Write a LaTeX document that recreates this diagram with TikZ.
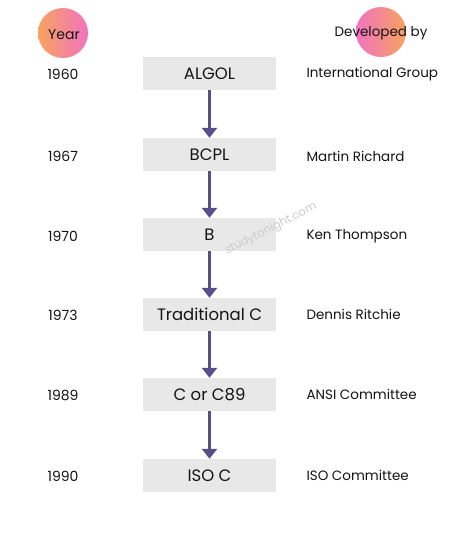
\documentclass[tikz,border=0pt]{standalone}
\usepackage{fontspec}
\setmainfont{Poppins}
\usetikzlibrary{arrows.meta}
\definecolor{boxgray}{HTML}{E8E8E8}
\definecolor{arrowc}{HTML}{5A4E88}
\definecolor{orangec}{HTML}{F7A35F}
\definecolor{pinkc}{HTML}{F173C0}
\definecolor{txt}{HTML}{141414}
\tikzset{
  langbox/.style={fill=boxgray, minimum width=133pt, minimum height=33pt, inner sep=0pt, font=\fontsize{16.5}{19}\selectfont, text=txt},
  yearlbl/.style={font=\fontsize{14}{16}\selectfont, text=txt},
  devlbl/.style={anchor=west, font=\fontsize{13.5}{16}\selectfont, text=txt},
  flow/.style={draw=arrowc, line width=3.5pt, -{Triangle[width=15pt,length=10pt]}, shorten >=0pt},
}
\begin{document}
\begin{tikzpicture}[x=1pt,y=-1pt]
\useasboundingbox (0,0) rectangle (450,550);
\fill[white] (0,0) rectangle (450,550);
% header circles
\shade[left color=orangec, right color=pinkc] (63,33) circle (25);
\shade[left color=pinkc, right color=orangec] (381,32) circle (25);
\node[yearlbl] (hy) at (64,35) {Year};
\node[yearlbl, font=\fontsize{13.5}{16}\selectfont] (hd) at (381,33) {Developed by};
% boxes
\node[langbox] (b1) at (209.5,73.5) {ALGOL};
\node[langbox] (b2) at (209.5,154.5) {BCPL};
\node[langbox] (b3) at (209.5,234.5) {B};
\node[langbox] (b4) at (209.5,314.5) {Traditional C};
\node[langbox] (b5) at (209.5,394.5) {C or C89};
\node[langbox] (b6) at (209.5,475.5) {ISO C};
\foreach \a/\b in {b1/b2,b2/b3,b3/b4,b4/b5,b5/b6}
  \draw[flow] (\a.south) -- (\b.north);
% years
\node[yearlbl] (y1) at (63,74) {1960};
\node[yearlbl] (y2) at (63,156) {1967};
\node[yearlbl] (y3) at (63,236) {1970};
\node[yearlbl] (y4) at (63,315) {1973};
\node[yearlbl] (y5) at (63,395) {1989};
\node[yearlbl] (y6) at (63,476) {1990};
% developers
\node[devlbl] (d1) at (303,74) {International Group};
\node[devlbl] (d2) at (303,156) {Martin Richard};
\node[devlbl] (d3) at (303,236) {Ken Thompson};
\node[devlbl] (d4) at (303,314) {Dennis Ritchie};
\node[devlbl] (d5) at (303,394) {ANSI Committee};
\node[devlbl] (d6) at (303,475) {ISO Committee};
% watermark
\node[rotate=27, text=black!20, font=\fontsize{11.5}{14}\selectfont] (wm) at (271,229) {studytonight.com};
\end{tikzpicture}
\end{document}
